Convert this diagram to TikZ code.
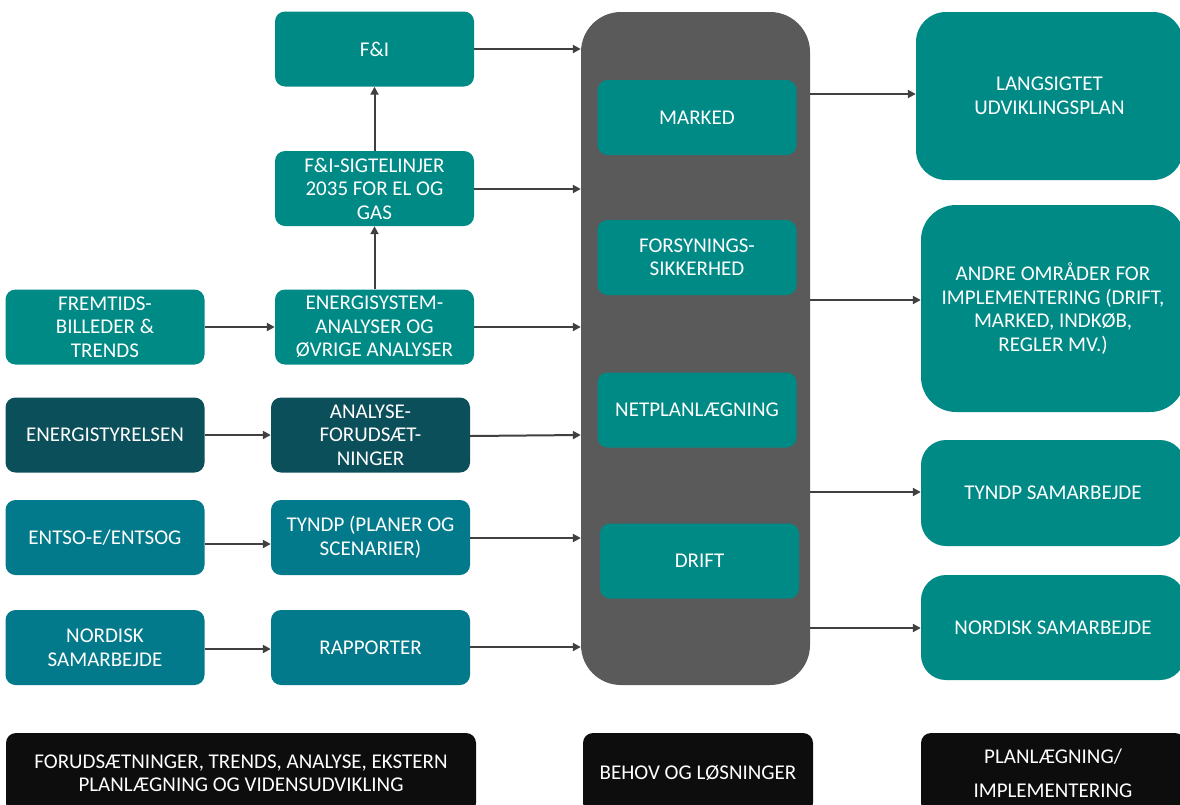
\documentclass[tikz,border=0pt]{standalone}
\usepackage{fontspec}
\setmainfont{Carlito}
\usetikzlibrary{arrows.meta,calc}
\definecolor{cTeal}{HTML}{008A86}
\definecolor{cDark}{HTML}{0B4F5A}
\definecolor{cBlue}{HTML}{027A8B}
\definecolor{cGray}{HTML}{5A5A5A}
\definecolor{cBlack}{HTML}{0D0D0D}
\definecolor{cLine}{HTML}{404040}
\tikzset{
  bx/.style={rectangle, rounded corners=10pt, text=white, align=center,
    font=\fontsize{21}{23.5}\selectfont, inner sep=0pt},
  sbox/.style={bx, minimum width=199pt, minimum height=75pt},
  lbl/.style={bx, fill=cBlack, minimum height=80pt, font=\fontsize{21}{23}\selectfont},
  arr/.style={draw=cLine, line width=2pt, -{Triangle[length=8pt,width=8pt]}},
}
\begin{document}
\begin{tikzpicture}[x=1pt,y=-1pt]
\useasboundingbox (0,0) rectangle (1180,804);
\clip (0,0) rectangle (1180,804);
% left column
\node[sbox, fill=cTeal] (frem) at (105,327) {FREMTIDS-\\BILLEDER \&\\TRENDS};
\node[sbox, fill=cDark] (ens) at (105,435) {ENERGISTYRELSEN};
\node[sbox, fill=cBlue] (entso) at (105,537.5) {ENTSO-E/ENTSOG};
\node[sbox, fill=cBlue] (nord) at (105,647.5) {NORDISK\\SAMARBEJDE};
% second column
\node[sbox, fill=cTeal] (fi) at (374.5,49) {F\&I};
\node[sbox, fill=cTeal] (sigt) at (374.5,188.5) {F\&I-SIGTELINJER\\2035 FOR EL OG\\GAS};
\node[sbox, fill=cTeal] (esys) at (374.5,327) {ENERGISYSTEM-\\ANALYSER OG\\ØVRIGE ANALYSER};
\node[sbox, fill=cDark] (anf) at (370.5,435) {ANALYSE-\\FORUDSÆT-\\NINGER};
\node[sbox, fill=cBlue] (tyndp) at (370.5,537.5) {TYNDP (PLANER OG\\SCENARIER)};
\node[sbox, fill=cBlue] (rapp) at (370.5,647.5) {RAPPORTER};
% gray middle
\node[rectangle, fill=cGray, rounded corners=40pt, minimum width=229pt, minimum height=673pt, inner sep=0pt] (gray) at (695.5,348.5) {};
\node[sbox, fill=cTeal] (mark) at (697,117.5) {MARKED};
\node[sbox, fill=cTeal] (fors) at (697,257.5) {FORSYNINGS-\\SIKKERHED};
\node[sbox, fill=cTeal] (netp) at (697,410) {NETPLANLÆGNING};
\node[sbox, fill=cTeal] (drift) at (699.5,561) {DRIFT};
% right column
\node[bx, fill=cTeal, rounded corners=30pt, minimum width=267pt, minimum height=168pt] (lang) at (1049.5,96) {LANGSIGTET\\UDVIKLINGSPLAN};
\node[bx, fill=cTeal, rounded corners=35pt, minimum width=264pt, minimum height=207pt] (andre) at (1053,308.5) {ANDRE OMRÅDER FOR\\IMPLEMENTERING (DRIFT,\\MARKED, INDKØB,\\REGLER MV.)};
\node[bx, fill=cTeal, rounded corners=25pt, minimum width=264pt, minimum height=106pt] (tsam) at (1053,493) {TYNDP SAMARBEJDE};
\node[bx, fill=cTeal, rounded corners=25pt, minimum width=264pt, minimum height=105pt] (nsam) at (1053,627.5) {NORDISK SAMARBEJDE};
% bottom labels
\node[lbl, minimum width=470pt] (bl) at (241,773) {FORUDSÆTNINGER, TRENDS, ANALYSE, EKSTERN\\PLANLÆGNING OG VIDENSUDVIKLING};
\node[lbl, minimum width=230pt] (bm) at (698,773) {BEHOV OG LØSNINGER};
\node[lbl, minimum width=264pt] (br) at (1053,773) {PLANLÆGNING/\\[11pt]IMPLEMENTERING};
% arrows left part
\draw[arr] (frem.east |- 0,327) -- (esys.west |- 0,327);
\draw[arr] (ens.east |- 0,435) -- (anf.west |- 0,435);
\draw[arr] (entso.east |- 0,544) -- (tyndp.west |- 0,544);
\draw[arr] (nord.east |- 0,649) -- (rapp.west |- 0,649);
\draw[arr] (esys.north) -- (sigt.south);
\draw[arr] (sigt.north) -- (fi.south);
% arrows into gray
\draw[arr] (fi.east |- 0,49) -- (gray.west |- 0,49);
\draw[arr] (sigt.east |- 0,189) -- (gray.west |- 0,189);
\draw[arr] (esys.east |- 0,327) -- (gray.west |- 0,327);
\draw[arr] (anf.east |- 0,436) -- (gray.west |- 0,435);
\draw[arr] (tyndp.east |- 0,538) -- (gray.west |- 0,538);
\draw[arr] (rapp.east |- 0,647) -- (gray.west |- 0,647);
% arrows out of gray
\draw[arr] (gray.east |- 0,94) -- (lang.west |- 0,94);
\draw[arr] (gray.east |- 0,300) -- (andre.west |- 0,300);
\draw[arr] (gray.east |- 0,492) -- (tsam.west |- 0,492);
\draw[arr] (gray.east |- 0,628) -- (nsam.west |- 0,628);
\end{tikzpicture}
\end{document}
